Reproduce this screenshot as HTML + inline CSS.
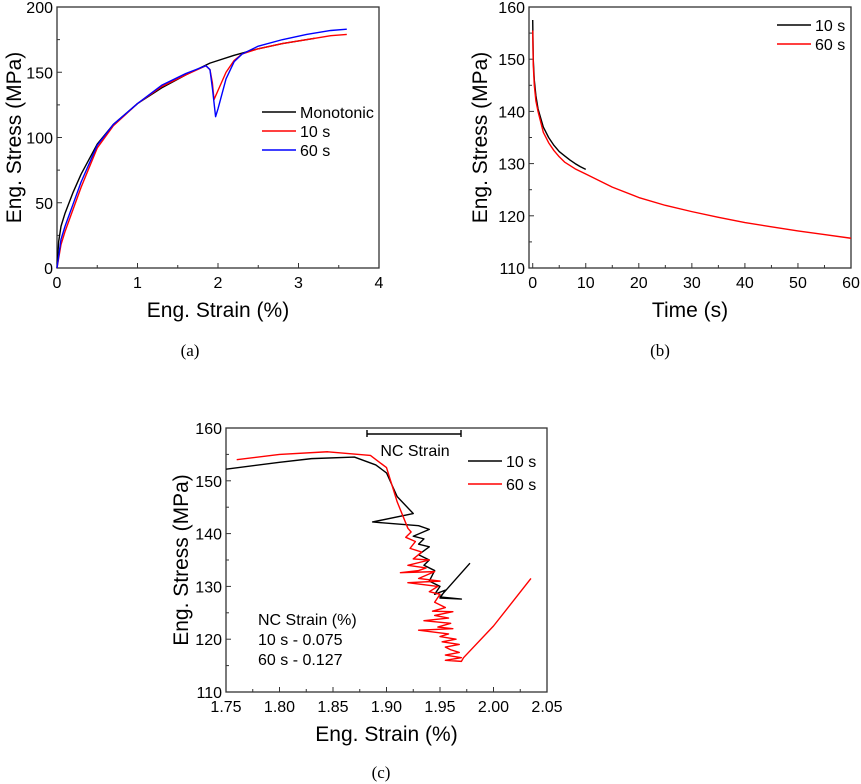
<!DOCTYPE html>
<html><head><meta charset="utf-8"><style>
html,body{margin:0;padding:0;background:#fff;}
svg{display:block;font-family:"Liberation Sans",sans-serif;}
.cap{font-family:"Liberation Serif",serif;font-size:17px;}
</style></head><body>
<svg id="s" width="861" height="784" viewBox="0 0 861 784"></svg>
<script>
// Panel (a)
const aMonoX=[0,0.02,0.05,0.1,0.2,0.3,0.5,0.7,1,1.3,1.6,1.9,2.2,2.5,2.8,3.2];
const aMonoY=[0,20,32,42,58,72,95,110,126,138,148,157,163,168,172,176];
const a10X=[0,0.05,0.1,0.2,0.3,0.5,0.7,1,1.3,1.6,1.85,1.9,1.93,1.95,2.0,2.1,2.2,2.3,2.5,2.8,3.1,3.4,3.6];
const a10Y=[0,18,28,45,62,92,109,126,139,148,155,152,142,129,136,150,159,164,168,172,175,178,179];
const a60X=[0,0.05,0.1,0.2,0.3,0.5,0.7,1,1.3,1.6,1.85,1.9,1.93,1.97,2.0,2.1,2.2,2.3,2.5,2.8,3.1,3.4,3.6];
const a60Y=[0,22,32,49,66,94,110,126,140,149,155,152,138,116,122,145,158,164,170,175,179,182,183];
const aXTicks=["0","1","2","3","4"];
const aYTicks=["0","50","100","150","200"];
// Panel (b)
const b10X=[0,0.1,0.3,0.6,1,2,3,4,5,6,7,8,9,10];
const b10Y=[157.5,150,146,143,140.5,137,135,133.5,132.3,131.5,130.7,130,129.4,128.9];
const b60X=[0,0.1,0.3,0.6,1,2,3,4,5,6,8,10,15,20,25,30,35,40,45,50,55,60];
const b60Y=[155.5,149,145,142,140,136,134,132.5,131.3,130.3,129,128,125.5,123.5,122,120.8,119.7,118.7,117.9,117.1,116.4,115.7];
const bXTicks=["0","10","20","30","40","50","60"];
const bYTicks=["110","120","130","140","150","160"];
// Panel (c)
const c10X=[1.75,1.80,1.83,1.87,1.89,1.90,1.91,1.925,1.887,1.93,1.94,1.925,1.935,1.93,1.94,1.93,1.94,1.935,1.945,1.94,1.95,1.945,1.955,1.95,1.97,1.95,1.978];
const c10Y=[152.2,153.5,154.2,154.5,153,151.5,147,143.8,142.2,141.5,140.8,139.5,139,138,137.5,136,135,134,133,131,130,128.5,129.3,127.8,127.6,128,134.4];
const c60X=[1.76,1.80,1.845,1.885,1.90,1.91,1.92,1.923,1.918,1.927,1.922,1.933,1.925,1.94,1.92,1.937,1.93,1.913,1.945,1.93,1.95,1.92,1.948,1.94,1.95,1.945,1.955,1.943,1.962,1.945,1.958,1.935,1.96,1.948,1.962,1.93,1.958,1.95,1.965,1.952,1.968,1.955,1.96,1.968,1.955,1.97,1.955,1.97,1.972,2.0,2.035];
const c60Y=[154,155,155.5,154.8,152.5,146,141,140.3,139.3,138.5,137.2,136.5,135.2,135,134,133.5,133,132.6,132.8,131.5,131,130.7,130,129,128.5,127,126,125.3,125.2,124.5,124,123.5,123,122.3,122,121.7,121,120.5,120,119.5,119,118.5,118,117.5,117,116.5,116,115.8,116.5,122.5,131.5];
const cXTicks=["1.75","1.80","1.85","1.90","1.95","2.00","2.05"];
const cYTicks=["110","120","130","140","150","160"];

const NS="http://www.w3.org/2000/svg";
const svg=document.getElementById('s');
function mk(tag,attrs,parent,txt){const e=document.createElementNS(NS,tag);for(const k in attrs)e.setAttribute(k,attrs[k]);if(txt!==undefined)e.textContent=txt;(parent||svg).appendChild(e);return e;}
function scale(d0,d1,r0,r1){return v=>r0+(v-d0)/(d1-d0)*(r1-r0);}

function panel(name,box,xd,yd,xTicks,yTicks,xLabel,yLabel){
  const g=mk('g',{});
  
  
  const sx=scale(xd[0],xd[1],box.x0,box.x1), sy=scale(yd[0],yd[1],box.y1,box.y0);
  const fr=mk('rect',{x:box.x0,y:box.y0,width:box.x1-box.x0,height:box.y1-box.y0,fill:'none',stroke:'#333','stroke-width':1.3},g);
  
  
  const xs=xTicks.map(Number), ys=yTicks.map(Number);
  xs.forEach((v,i)=>{
    const x=sx(v);
    mk('line',{x1:x,x2:x,y1:box.y1,y2:box.y1-5,stroke:'#333'},g);
    if(i<xs.length-1){const xm=sx((v+xs[i+1])/2);mk('line',{x1:xm,x2:xm,y1:box.y1,y2:box.y1-3,stroke:'#333'},g);}
    const t=mk('text',{x:x,y:box.y1+20,'text-anchor':'middle','font-size':box.tf},g,xTicks[i]);
    
    
  });
  ys.forEach((v,i)=>{
    const y=sy(v);
    mk('line',{x1:box.x0,x2:box.x0+5,y1:y,y2:y,stroke:'#333'},g);
    if(i<ys.length-1){const ym=sy((v+ys[i+1])/2);mk('line',{x1:box.x0,x2:box.x0+3,y1:ym,y2:ym,stroke:'#333'},g);}
    const t=mk('text',{x:box.x0-4,y:y+6,'text-anchor':'end','font-size':box.tf},g,yTicks[i]);
    
    
  });
  const xl=mk('text',{x:(box.x0+box.x1)/2,y:box.y1+49,'text-anchor':'middle','font-size':21},g,xLabel);
  
  
  const cy=(box.y0+box.y1)/2;
  const yl=mk('text',{x:box.yx,y:cy,'text-anchor':'middle','font-size':21,transform:`rotate(-90 ${box.yx} ${cy})`},g,yLabel);
  
  
  return {g,sx,sy};
}
function series(p,name,X,Y,color){
  const d=X.map((x,i)=>(i?'L':'M')+p.sx(x).toFixed(2)+','+p.sy(Y[i]).toFixed(2)).join(' ');
  const e=mk('path',{d:d,fill:'none',stroke:color,'stroke-width':1.4,'stroke-linejoin':'round'},p.g);
  
  
}
function legend(p,x,y,items,gap){
  items.forEach((it,i)=>{
    const yy=y+i*gap;
    const l=mk('line',{x1:x,x2:x+34,y1:yy,y2:yy,stroke:it[1],'stroke-width':1.5},p.g);
    
    
    const t=mk('text',{x:x+38,y:yy+6,'font-size':16},p.g,it[0]);
    
    
  });
}

// (a)
const pa=panel('panel-a',{x0:57,x1:379,y0:7,y1:268,tf:16,yx:21},[0,4],[0,200],aXTicks,aYTicks,'Eng. Strain (%)','Eng. Stress (MPa)');
series(pa,'monotonic-line',aMonoX,aMonoY,'#000');
series(pa,'series-10s-line',a10X,a10Y,'#f00');
series(pa,'series-60s-line',a60X,a60Y,'#00f');
legend(pa,262,112,[['Monotonic','#000'],['10 s','#f00'],['60 s','#00f']],19);
// (b)
const pb=panel('panel-b',{x0:529,x1:851,y0:7,y1:268,tf:16,yx:487},[-0.7,60],[110,160],bXTicks,bYTicks,'Time (s)','Eng. Stress (MPa)');
series(pb,'series-10s-line',b10X,b10Y,'#000');
series(pb,'series-60s-line',b60X,b60Y,'#f00');
legend(pb,777,25,[['10 s','#000'],['60 s','#f00']],19);
// (c)
const pc=panel('panel-c',{x0:226,x1:547,y0:428,y1:692,tf:16,yx:188},[1.75,2.05],[110,160],cXTicks,cYTicks,'Eng. Strain (%)','Eng. Stress (MPa)');
series(pc,'series-10s-line',c10X,c10Y,'#000');
series(pc,'series-60s-line',c60X,c60Y,'#f00');
legend(pc,468,461,[['10 s','#000'],['60 s','#f00']],23);
const nb=mk('path',{d:'M367,430 V437 M367,434 H461 M461,430 V437',stroke:'#000','stroke-width':1.4,fill:'none'},pc.g);


const nt=mk('text',{x:415,y:456,'text-anchor':'middle','font-size':16},pc.g,'NC Strain');


['NC Strain (%)','10 s - 0.075','60 s - 0.127'].forEach((s,i)=>{
  const t=mk('text',{x:258,y:625+i*20,'font-size':16},pc.g,s);
  
  
});
// captions
[['(a)',190,356],['(b)',660,356],['(c)',381,778]].forEach(c=>{
  const t=mk('text',{x:c[1],y:c[2],'text-anchor':'middle',class:'cap'},svg,c[0]);
  
  
});
</script>
</body></html>
